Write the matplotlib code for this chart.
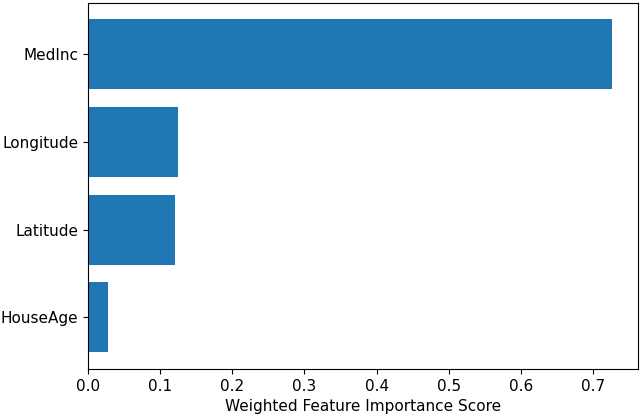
import matplotlib
matplotlib.use("Agg")
import matplotlib.pyplot as plt

features = ['HouseAge', 'Latitude', 'Longitude', 'MedInc']
scores = [0.028, 0.121, 0.125, 0.726]

plt.rcParams['font.size'] = 11.0

fig, ax = plt.subplots(figsize=(6.4, 4.16), dpi=100)
ax.barh(features, scores, color='#1f77b4')
ax.set_xlabel('Weighted Feature Importance Score')

fig.subplots_adjust(left=88/640, right=638/640, top=1-2.5/416, bottom=1-369/416)
fig.savefig('out.png', dpi=100)
